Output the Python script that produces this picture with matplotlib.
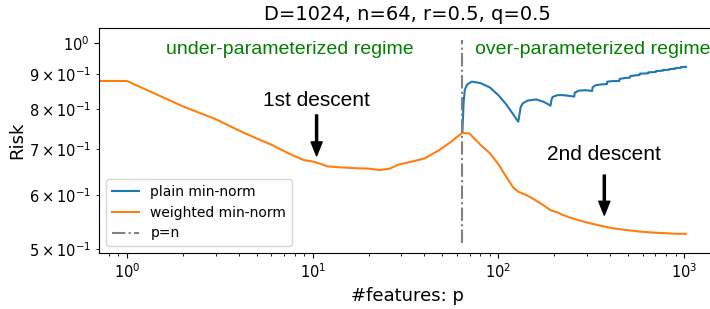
import numpy as np
import matplotlib
matplotlib.use("Agg")
import matplotlib.pyplot as plt

# risk curves (D=1024, n=64)
p_weighted = [0, 1, 2, 3, 4, 5, 6, 7, 8, 9, 10, 11, 12, 14, 17, 20, 23, 26, 29, 32,
              36, 40, 44, 48, 52, 56, 60, 64, 70, 80, 90, 100, 110, 120, 128, 140,
              152, 170, 192, 205, 224, 250, 288, 320, 360, 411, 480, 573, 680, 794,
              900, 1024]
risk_weighted = [0.880, 0.880, 0.808, 0.774, 0.745, 0.725, 0.710, 0.695, 0.683, 0.674,
                 0.671, 0.666, 0.660, 0.658, 0.656, 0.655, 0.652, 0.655, 0.664, 0.668,
                 0.673, 0.678, 0.688, 0.697, 0.708, 0.718, 0.729, 0.739, 0.737, 0.710,
                 0.690, 0.665, 0.638, 0.615, 0.606, 0.600, 0.593, 0.582, 0.569, 0.566,
                 0.560, 0.554, 0.548, 0.544, 0.540, 0.536, 0.533, 0.530, 0.528, 0.527,
                 0.526, 0.526]

p_plain = [64, 65, 66, 68, 72, 80, 90, 100, 110, 120, 128, 132, 136, 144, 160, 176,
           191, 193, 196, 208, 224, 240, 256, 258, 272, 296, 320, 322, 336, 360, 384,
           386, 416, 448, 450, 480, 512, 514, 576, 578, 640, 642, 704, 706, 768, 770,
           832, 834, 896, 898, 960, 962, 1024]
risk_plain = [0.739, 0.820, 0.855, 0.870, 0.878, 0.874, 0.861, 0.839, 0.814, 0.787,
              0.767, 0.807, 0.817, 0.824, 0.827, 0.820, 0.810, 0.825, 0.834, 0.839,
              0.839, 0.837, 0.835, 0.846, 0.852, 0.853, 0.851, 0.862, 0.868, 0.870,
              0.871, 0.878, 0.880, 0.880, 0.886, 0.889, 0.890, 0.895, 0.898, 0.902,
              0.903, 0.906, 0.907, 0.910, 0.911, 0.913, 0.914, 0.916, 0.917, 0.919,
              0.920, 0.922, 0.923]

n = 64
title = "D=1024, n=64, r=0.5, q=0.5"

fig = plt.figure(figsize=(7.1, 3.09), dpi=100)
# axes run a little past the right edge of the picture, as in the reference
ax = fig.add_axes([99/710, 56/309, 617/710, 225/309])

ax.plot(p_plain, risk_plain, color='tab:blue', lw=1.5, label='plain min-norm')
ax.plot(p_weighted, risk_weighted, color='tab:orange', lw=1.5, label='weighted min-norm')
ax.vlines(n, 0.51, 1.01, colors='grey', linestyles='-.', lw=1.5, label='p=n')

ax.set_xscale('log')
ax.set_yscale('log')
ax.set_xlim(0.707, 1486)
ax.set_ylim(0.493, 1.052)

ax.text(7.5, 0.98, 'under-parameterized regime', color='green', fontsize=14,
        ha='center', va='center', family='Liberation Sans')
ax.text(75, 0.98, 'over-parameterized regime', color='green', fontsize=14,
        ha='left', va='center', family='Liberation Sans')

# arrows marking the two descents
ax.annotate('', xy=(10.5, 0.684), xytext=(10.5, 0.785),
            arrowprops=dict(facecolor='black', edgecolor='black', width=1.5,
                            headwidth=8, headlength=10))
ax.text(10.5, 0.823, '1st descent', fontsize=15, ha='center', va='center',
        family='Liberation Sans')
ax.annotate('', xy=(372, 0.560), xytext=(372, 0.641),
            arrowprops=dict(facecolor='black', edgecolor='black', width=1.5,
                            headwidth=8, headlength=10))
ax.text(372, 0.686, '2nd descent', fontsize=15, ha='center', va='center',
        family='Liberation Sans')

ax.set_title(title, fontsize=14)
ax.set_xlabel('#features: p', fontsize=13)
ax.set_ylabel('Risk', fontsize=13, labelpad=2)
ax.tick_params(which='both', labelsize=10.5)
ax.legend(loc='lower left', fontsize=10)

fig.savefig('out.png', dpi=100)
